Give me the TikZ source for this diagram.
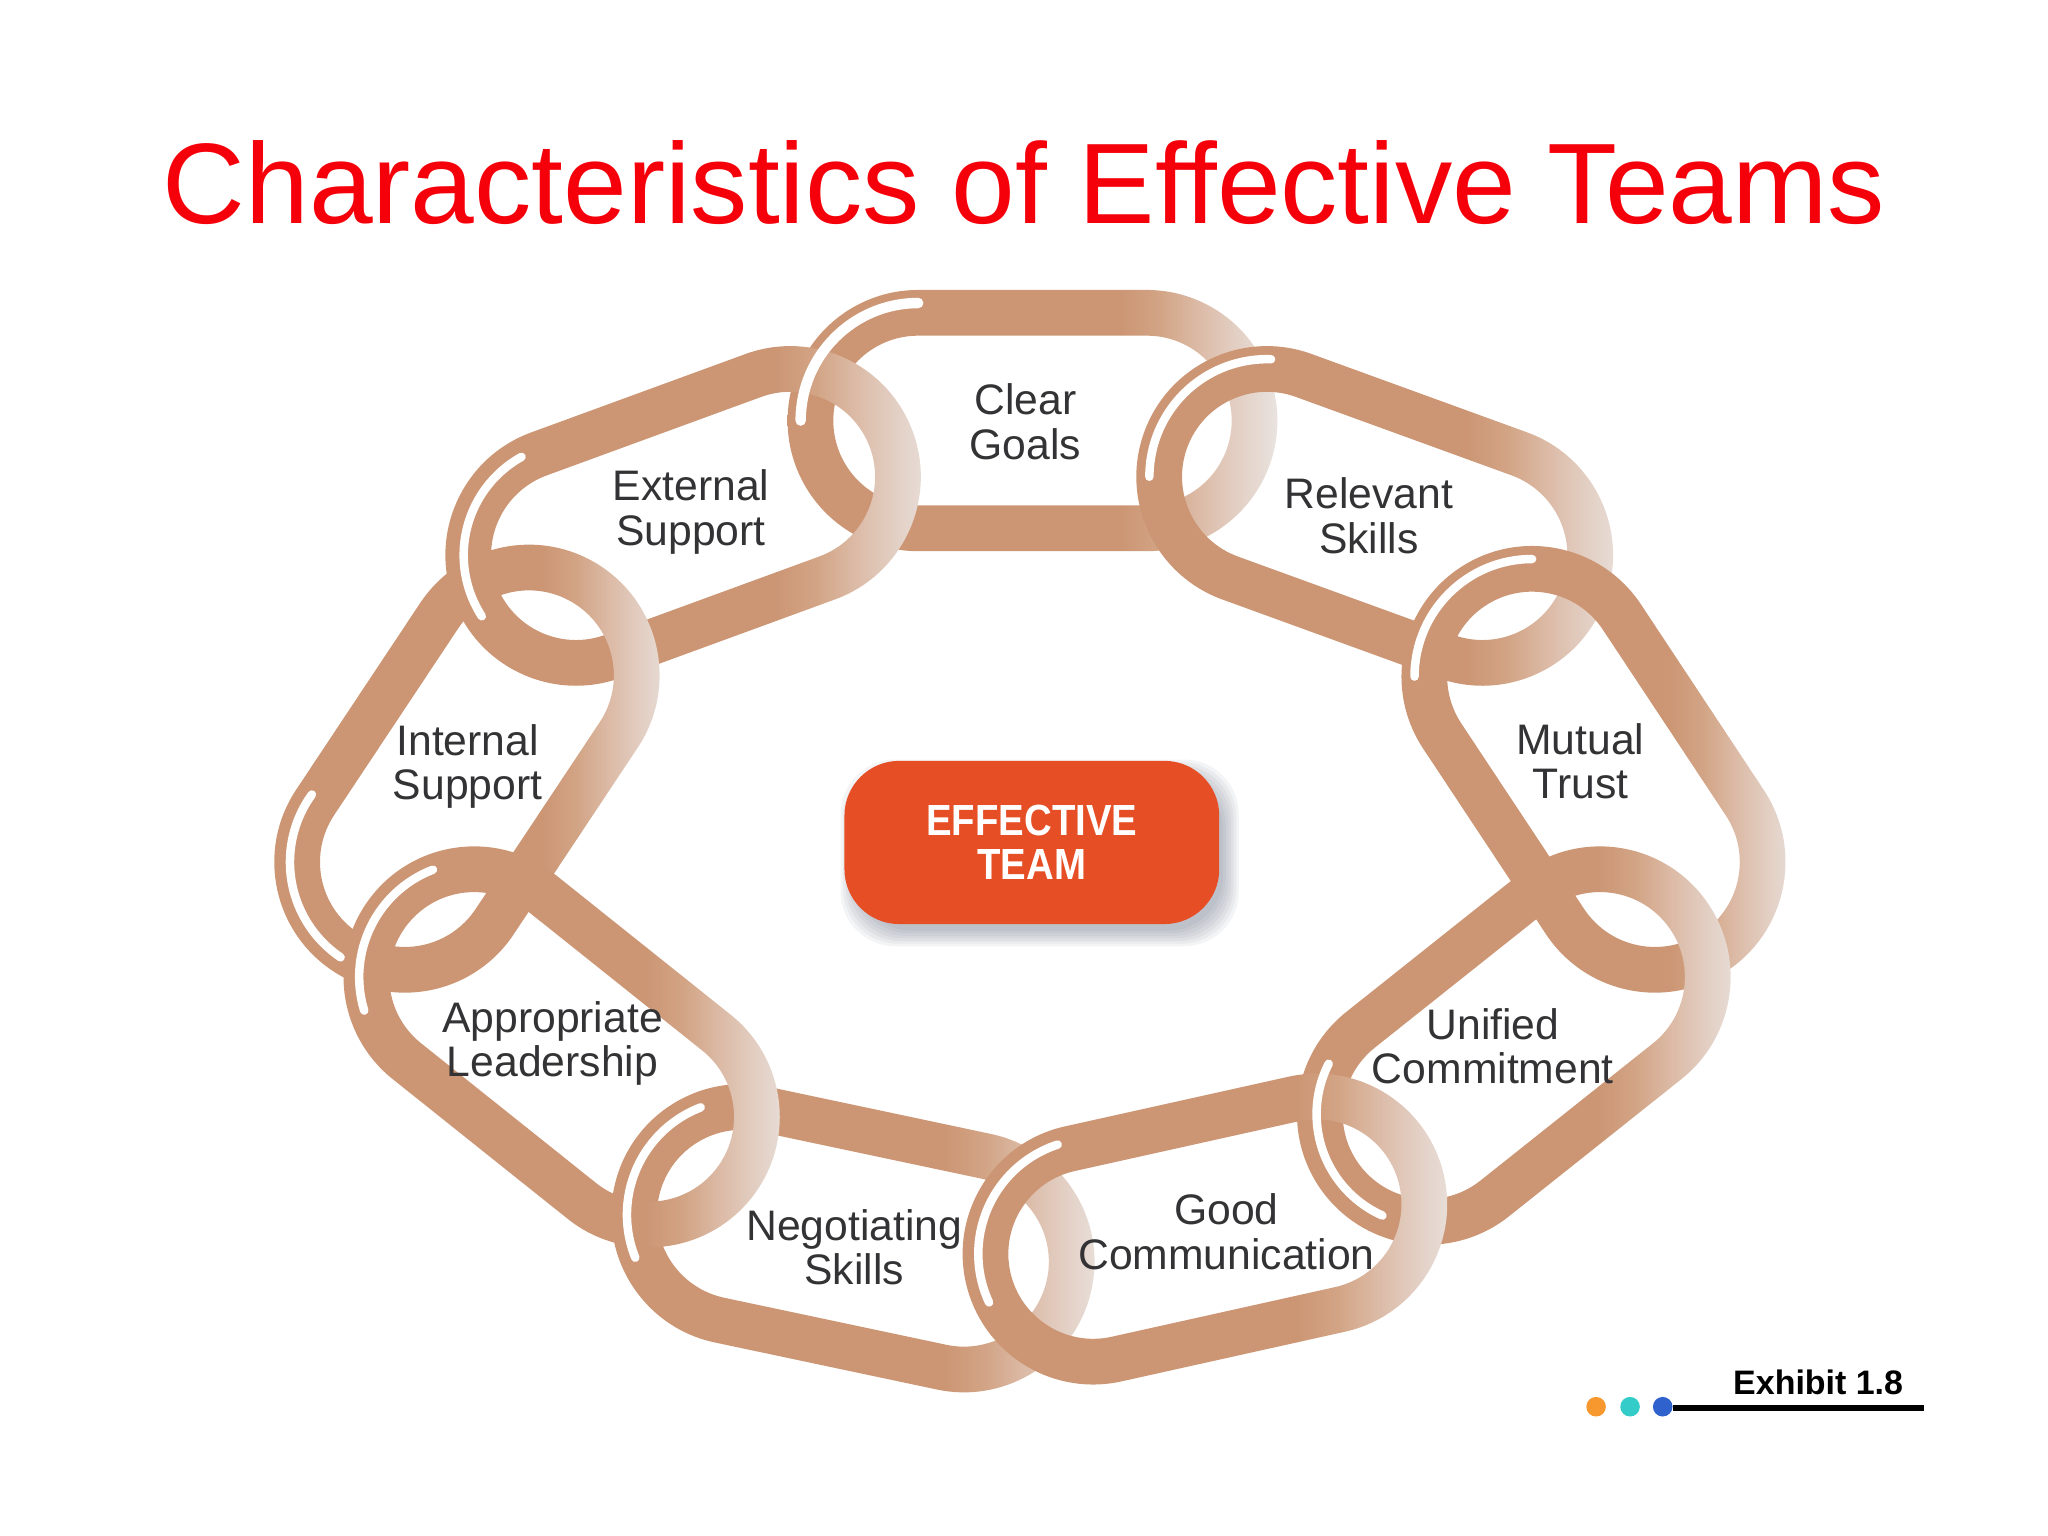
\documentclass[tikz,border=0pt]{standalone}
\usepackage{fontspec}
\setmainfont[Ligatures=NoCommon]{Liberation Sans}
\newfontfamily\teamfont[FakeStretch=0.88]{Liberation Sans}
\usepackage{xcolor}
\usetikzlibrary{
    calc             % For the offset points of the chain links
}
\definecolor{titlered}{HTML}{F5000A}
\definecolor{linkbrown}{HTML}{CC9674}
\definecolor{linkfade1}{HTML}{D2A485}
\definecolor{linkfade2}{HTML}{DCBBA7}
\definecolor{linkfade3}{HTML}{E3D0C5}
\definecolor{linkpale}{HTML}{E9E3DF}
\definecolor{labelgray}{HTML}{333335}
\definecolor{teamorange}{HTML}{E64E25}
\definecolor{shadowgray}{HTML}{5A6478}
\definecolor{dotorange}{HTML}{F7982F}
\definecolor{dotteal}{HTML}{33CCC8}
\definecolor{dotblue}{HTML}{2F62CC}

% Brown for most of the link, fading out at its right end
\pgfdeclarehorizontalshading{linkfade}{100bp}{
    color(0bp)=(linkbrown);
    color(59bp)=(linkbrown);
    color(63bp)=(linkfade1);
    color(67bp)=(linkfade2);
    color(71bp)=(linkfade3);
    color(75bp)=(linkpale);
    color(100bp)=(linkpale)
}

% One chain link between the centres of its two end arcs: #1,#2 and #3,#4
\newcommand{\chainlink}[4]{
    \pgfmathsetmacro{\linkangle}{atan2(#4-#2,#3-#1)}
    \shade[linkring]
        ($(#1,#2)+(\linkangle+90:100)$) -- ($(#3,#4)+(\linkangle+90:100)$)
        arc[start angle={\linkangle+90}, end angle={\linkangle-90}, radius=100]
        -- ($(#1,#2)+(\linkangle-90:100)$)
        arc[start angle={\linkangle-90}, end angle={\linkangle-270}, radius=100] -- cycle
        ($(#1,#2)+(\linkangle+90:65)$) -- ($(#3,#4)+(\linkangle+90:65)$)
        arc[start angle={\linkangle+90}, end angle={\linkangle-90}, radius=65]
        -- ($(#1,#2)+(\linkangle-90:65)$)
        arc[start angle={\linkangle-90}, end angle={\linkangle-270}, radius=65] -- cycle;
}

\begin{document}
\begin{tikzpicture}[x=0.02cm, y=-0.02cm]

    % --- Style Definitions ---
    \tikzset{
        linkring/.style={
            even odd rule,
            shading=linkfade,
            shading angle=0
        },
        % The white highlight on the upper left of each link
        glint/.style={
            draw=white,
            line width=6.5*0.02cm,
            line cap=round
        },
        linklabel/.style={
            align=center,
            inner sep=0pt,
            text=labelgray,
            font=\fontsize{18.6pt}{19.4pt}\selectfont
        },
        teambox/.style={
            rectangle,
            rounded corners=0.84cm,
            fill=teamorange,
            minimum width=5.74cm,
            minimum height=2.5cm,
            align=center,
            text=white,
            font=\teamfont\fontsize{19pt}{19.4pt}\selectfont\bfseries
        },
        teamshadow/.style={
            rectangle,
            rounded corners=0.84cm,
            fill=shadowgray,
            fill opacity=0.07
        },
        markdot/.style={
            circle,
            inner sep=0pt,
            minimum size=15*0.02cm
        }
    }

    \useasboundingbox (0,0) rectangle (1568,1176);

    % --- Title ---
    \node[text=titlered, font=\fontsize{49.9pt}{50pt}\selectfont, inner sep=0pt] (title) at (784,140)
        {Characteristics of Effective Teams};

    % --- Chain Links ---
    % Painted so that each link lies over the one it overlaps
    \chainlink{703}{322}{878}{322}   % goals
    \chainlink{568}{930}{738}{966}   % negotiating
    \chainlink{441}{425}{605}{365}   % external
    \chainlink{970}{365}{1135}{425}  % relevant
    \chainlink{310}{660}{405}{517}   % internal
    \chainlink{1173}{518}{1267}{660} % mutual
    \chainlink{363}{748}{497}{855}   % leadership
    \chainlink{1093}{853}{1225}{748} % unified
    \chainlink{837}{960}{1008}{922}  % communication

    % --- Highlights ---
    \draw[glint, line width=8*0.02cm] ($(703,322)+(180:90)$) arc[start angle=180, end angle=270, radius=90];
    \draw[glint] ($(970,365)+(180:90)$) arc[start angle=180, end angle=272, radius=90];
    \draw[glint] ($(1173,518)+(180:90)$) arc[start angle=180, end angle=270, radius=90];
    \draw[glint] ($(1093,853)+(114:85)$) arc[start angle=114, end angle=207, radius=85];
    \draw[glint] ($(837,960)+(155:88)$) arc[start angle=155, end angle=252, radius=88];
    \draw[glint] ($(568,930)+(158:88)$) arc[start angle=158, end angle=249, radius=88];
    \draw[glint] ($(363,748)+(163:88)$) arc[start angle=163, end angle=249, radius=88];
    \draw[glint] ($(310,660)+(124:88)$) arc[start angle=124, end angle=216, radius=88];
    \draw[glint] ($(441,425)+(147:86)$) arc[start angle=147, end angle=241, radius=86];

    % --- Link Labels ---
    \node[linklabel] (goals) at (785,323) {Clear\\Goals};
    \node[linklabel] (relevant) at (1048,395) {Relevant\\Skills};
    \node[linklabel] (mutual) at (1210,583) {Mutual\\Trust};
    \node[linklabel] (unified) at (1143,801) {Unified\\Commitment};
    \node[linklabel] (communication) at (939,943) {Good\\Communication};
    \node[linklabel] (negotiating) at (654,955) {Negotiating\\Skills};
    \node[linklabel] (leadership) at (423,799) {Appropriate\\Leadership};
    \node[linklabel] (internal) at (358,587) {Internal\\Support};
    \node[linklabel] (external) at (529,392) {External\\Support};

    % --- Centre Box ---
    % Copies of shrinking size stand in for the soft shadow
    \foreach \s in {18,14,10,6,2,-2,-6} {
        \node[teamshadow, minimum width={(287+\s)*0.02cm}, minimum height={(125+\s)*0.02cm}] at (796,653) {};
    }
    \node[teambox] (team) at (790,645) {EFFECTIVE\\TEAM};

    % --- Exhibit Mark ---
    \node[markdot, fill=dotorange] (dot1) at (1222,1077) {};
    \node[markdot, fill=dotteal] (dot2) at (1248,1077) {};
    \node[markdot, fill=dotblue] (dot3) at (1273,1077) {};
    \coordinate (markend) at (1473,1078);
    \draw[line width=4*0.02cm, black] (dot3.east |- markend) -- (markend);
    \node[font=\fontsize{14.8pt}{15pt}\selectfont\bfseries, inner sep=0pt] (exhibit) at (1392,1058) {Exhibit 1.8};

\end{tikzpicture}
\end{document}
